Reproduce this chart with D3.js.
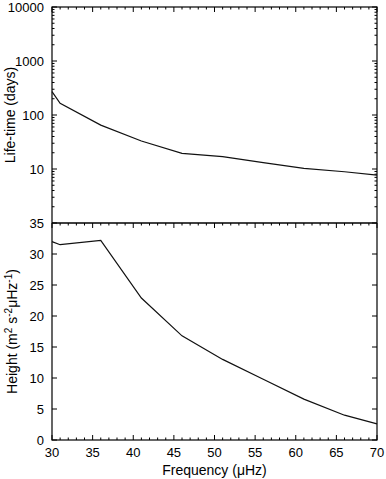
<!DOCTYPE html>
<html>
<head>
<meta charset="utf-8">
<script src="https://cdnjs.cloudflare.com/ajax/libs/d3/7.8.5/d3.min.js"></script>
<style>
  body { margin: 0; background: #fff; }
  text { font-family: "Liberation Sans", Arial, sans-serif; fill: #000; }
</style>
</head>
<body>
<svg id="chart" width="386" height="479"></svg>
<script>
// frequencies (µHz)
const freq = [30, 31, 36, 41, 46, 51, 56, 61, 66, 70];
// life-time (days)
const lifetime = [270, 165, 65, 33, 19.5, 16.9, 13.1, 10.3, 8.9, 7.7];
// height (m^2 s^-2 µHz^-1)
const height = [32.0, 31.5, 32.2, 22.9, 16.8, 13.0, 9.8, 6.6, 4.0, 2.6];

const xTicks = [30, 35, 40, 45, 50, 55, 60, 65, 70];
const lifeTicks = [10, 100, 1000, 10000];
const heightTicks = [0, 5, 10, 15, 20, 25, 30, 35];

const left = 52, right = 377;
const top1 = 7, mid = 223, bot2 = 440;

const svg = d3.select("#chart");

const x = d3.scaleLinear().domain([30, 70]).range([left, right]);
const yLife = d3.scaleLog().domain([1, 10000]).range([mid, top1]);
const yHeight = d3.scaleLinear().domain([0, 35]).range([bot2, mid]);

const major = 5, minor = 2.5;
const minorX = d3.range(30, 71, 1).filter(d => d % 5 != 0);
const minorLog = [];
[1, 10, 100, 1000].forEach(p => { for (let k = 2; k <= 9; k++) minorLog.push(p * k); });

// ticks helper: draw inward tick segments
function ticksH(vals, scale, y0, len) {
    svg.append("g").selectAll("line")
        .data(vals)
        .enter().append("line")
            .attr("x1", d => scale(d)).attr("x2", d => scale(d))
            .attr("y1", y0).attr("y2", y0 + len)
            .attr("stroke", "#000").attr("stroke-width", 1)
}
function ticksV(vals, scale, x0, len) {
    svg.append("g").selectAll("line")
        .data(vals)
        .enter().append("line")
            .attr("y1", d => scale(d)).attr("y2", d => scale(d))
            .attr("x1", x0).attr("x2", x0 + len)
            .attr("stroke", "#000").attr("stroke-width", 1)
}

// top panel ticks
ticksH(xTicks, x, top1, major);
ticksH(minorX, x, top1, minor);
ticksV(lifeTicks, yLife, left, major);
ticksV(minorLog, yLife, left, minor);
ticksV(lifeTicks, yLife, right, -major);
ticksV(minorLog, yLife, right, -minor);

// bottom panel ticks
ticksH(xTicks, x, mid, major);
ticksH(minorX, x, mid, minor);
ticksH(xTicks, x, bot2, -major);
ticksH(minorX, x, bot2, -minor);
ticksV(heightTicks, yHeight, left, major);
ticksV(heightTicks, yHeight, right, -major);

// frames
svg.append("rect")
    .attr("x", left).attr("y", top1)
    .attr("width", right - left).attr("height", bot2 - top1)
    .attr("fill", "none").attr("stroke", "#000").attr("stroke-width", 1.2)
svg.append("line")
    .attr("x1", left).attr("x2", right)
    .attr("y1", mid).attr("y2", mid)
    .attr("stroke", "#000").attr("stroke-width", 1.5)

// lines
const lifeLine = d3.line().x((d, i) => x(freq[i])).y(d => yLife(d));
const heightLine = d3.line().x((d, i) => x(freq[i])).y(d => yHeight(d));

svg.append("path")
    .attr("d", lifeLine(lifetime))
    .attr("fill", "none").attr("stroke", "#111").attr("stroke-width", 1.2)
svg.append("path")
    .attr("d", heightLine(height))
    .attr("fill", "none").attr("stroke", "#111").attr("stroke-width", 1.2)

// tick labels
svg.append("g").selectAll("text")
    .data(lifeTicks)
    .enter().append("text")
        .attr("x", left - 8).attr("y", d => yLife(d) + 5)
        .attr("text-anchor", "end").attr("font-size", 13)
        .text(d => d)
svg.append("g").selectAll("text")
    .data(heightTicks)
    .enter().append("text")
        .attr("x", left - 8).attr("y", d => yHeight(d) + 5)
        .attr("text-anchor", "end").attr("font-size", 13)
        .text(d => d)
svg.append("g").selectAll("text")
    .data(xTicks)
    .enter().append("text")
        .attr("x", d => x(d)).attr("y", bot2 + 17)
        .attr("text-anchor", "middle").attr("font-size", 13)
        .text(d => d)

// axis titles
svg.append("text")
    .attr("x", (left + right) / 2).attr("y", 475)
    .attr("text-anchor", "middle").attr("font-size", 14)
    .text("Frequency (\u03bcHz)")

svg.append("text")
    .attr("transform", "translate(15," + ((top1 + mid) / 2) + ") rotate(-90)")
    .attr("text-anchor", "middle").attr("font-size", 14)
    .text("Life-time (days)")

const ht = svg.append("text")
    .attr("transform", "translate(17," + ((mid + bot2) / 2) + ") rotate(-90)")
    .attr("text-anchor", "middle").attr("font-size", 14)
ht.append("tspan").text("Height (m")
ht.append("tspan").attr("dy", -5).attr("font-size", 10).text("2")
ht.append("tspan").attr("dy", 5).text(" s")
ht.append("tspan").attr("dy", -5).attr("font-size", 10).text("-2")
ht.append("tspan").attr("dy", 5).text("\u03bcHz")
ht.append("tspan").attr("dy", -5).attr("font-size", 10).text("-1")
ht.append("tspan").attr("dy", 5).text(")")
</script>
</body>
</html>
